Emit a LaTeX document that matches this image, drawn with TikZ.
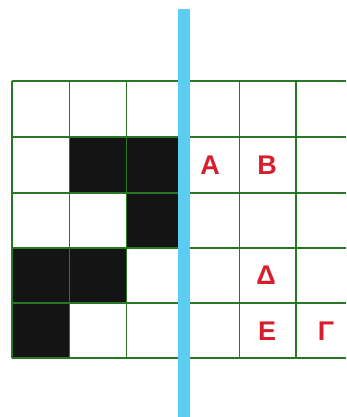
\documentclass[tikz,border=0pt]{standalone}
\usepackage{fontspec}
\setmainfont{Liberation Sans}
\definecolor{gridgreen}{RGB}{40,120,35}
\definecolor{barblue}{RGB}{90,205,240}
\definecolor{letred}{RGB}{215,30,45}
\begin{document}
\begin{tikzpicture}[x=1pt,y=-1pt,
  blackcell/.style={fill=black!92},
  gridline/.style={draw=gridgreen,line width=1.3pt},
  letter/.style={text=letred,font=\fontsize{27}{27}\selectfont\bfseries,inner sep=0pt,anchor=center}]
\useasboundingbox (0,0) rectangle (346,417);
% black cells
\fill[blackcell] (69.5,137) rectangle (183,193);
\fill[blackcell] (126.5,193) rectangle (183,248);
\fill[blackcell] (12,248) rectangle (126.5,303);
\fill[blackcell] (12,303) rectangle (69.5,358);
% grid
\foreach \y in {81,137,193,248,303,358} \draw[gridline] (12,\y) -- (346,\y);
\foreach \x in {12,69.5,126.5,183,239.5,296} \draw[gridline] (\x,81) -- (\x,358);
% blue bar
\fill[barblue] (178,9) rectangle (190,417);
% letters
\node[letter] (A) at (210,165) {A};
\node[letter] (B) at (267,165) {B};
\node[letter] (D) at (266,275) {Δ};
\node[letter] (E) at (267,331) {E};
\node[letter] (G) at (326,331) {Γ};
\end{tikzpicture}
\end{document}
